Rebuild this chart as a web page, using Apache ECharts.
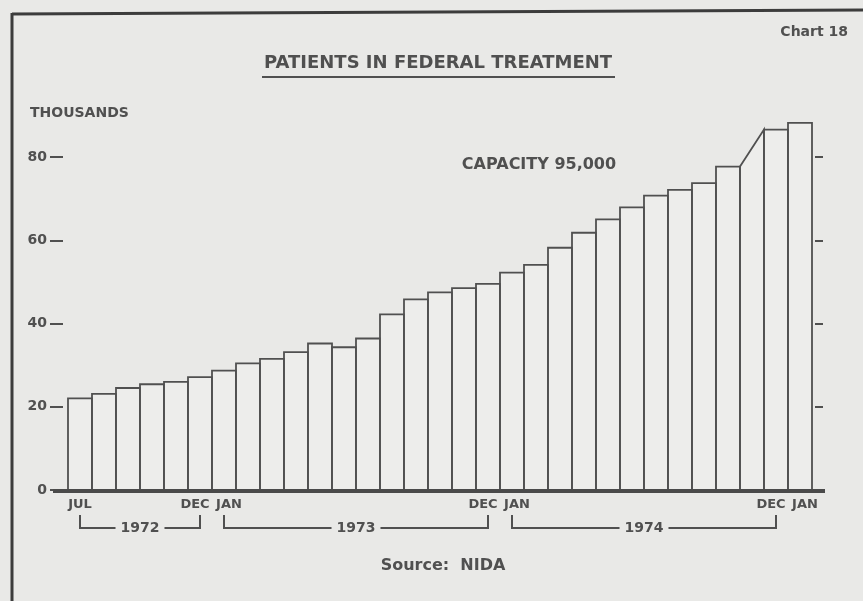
<!DOCTYPE html>
<html>
<head>
<meta charset="utf-8">
<script src="https://cdn.jsdelivr.net/npm/echarts@6/dist/echarts.min.js"></script>
<style>
html,body{margin:0;padding:0;background:#e9e9e7;}
#c{width:863px;height:601px;}
</style>
</head>
<body>
<div id="c"></div>
<script>
// ---- data ----
const months = ['Jul 1972','Aug 1972','Sep 1972','Oct 1972','Nov 1972','Dec 1972',
  'Jan 1973','Feb 1973','Mar 1973','Apr 1973','May 1973','Jun 1973','Jul 1973','Aug 1973','Sep 1973','Oct 1973','Nov 1973','Dec 1973',
  'Jan 1974','Feb 1974','Mar 1974','Apr 1974','May 1974','Jun 1974','Jul 1974','Aug 1974','Sep 1974','Oct 1974','Nov 1974','Dec 1974',
  'Jan 1975'];
// patients in thousands; Nov 1974 not reported (drawn as a slope between neighbours)
const patients = [22.0, 23.1, 24.5, 25.4, 26.0, 27.1,
  28.7, 30.4, 31.5, 33.1, 35.2, 34.3, 36.4, 42.2, 45.8, 47.5, 48.5, 49.5,
  52.2, 54.1, 58.2, 61.8, 65.0, 67.9, 70.7, 72.1, 73.7, 77.7, null, 86.6,
  88.2];
const monthTickLabels = {0:'JUL', 5:'DEC', 6:'JAN', 17:'DEC', 18:'JAN', 29:'DEC', 30:'JAN'};
const yTicks = [0, 20, 40, 60, 80];
const years = ['1972', '1973', '1974'];
const yearSpans = [[0, 5], [6, 17], [18, 29]];
const titleText = 'PATIENTS IN FEDERAL TREATMENT';
const chartNo = 'Chart 18';
const unitText = 'THOUSANDS';
const capacityText = 'CAPACITY 95,000';
const sourceText = 'Source:  NIDA';

// ---- build ----
const INK = '#505050';
const PAPER = '#e9e9e7';
const FONT = '"DejaVu Sans", sans-serif';

const barData = patients.map((v, i) => {
  if (v !== null) return [i, v, v];
  return [i, patients[i - 1], patients[i + 1]];
});

const chart = echarts.init(document.getElementById('c'));
chart.setOption({
  backgroundColor: PAPER,
  animation: false,
  grid: {left: 68, right: 51, top: 157, bottom: 111},
  xAxis: {
    type: 'category', data: months,
    axisLine: {show: false}, axisTick: {show: false}, splitLine: {show: false},
    axisLabel: {
      interval: 0, margin: 8, color: INK, fontFamily: FONT, fontWeight: 'bold', fontSize: 13,
      formatter: (val, idx) => {
        const t = monthTickLabels[idx];
        if (!t) return '';
        if (t === 'DEC') return '{d|' + t + '}';
        if (t === 'JAN' && idx > 0) return '{j|' + t + '}';
        return '{n|' + t + '}';
      },
      rich: {
        d: {padding: [0, 10, 0, 0], color: INK, fontFamily: FONT, fontWeight: 'bold', fontSize: 13},
        j: {padding: [0, 0, 0, 10], color: INK, fontFamily: FONT, fontWeight: 'bold', fontSize: 13},
        n: {color: INK, fontFamily: FONT, fontWeight: 'bold', fontSize: 13}
      }
    }
  },
  yAxis: [{
    type: 'value', min: yTicks[0], max: yTicks[yTicks.length - 1], interval: yTicks[1] - yTicks[0],
    position: 'left', offset: 5,
    axisLine: {show: false},
    axisTick: {show: true, length: 13, lineStyle: {color: INK, width: 2}},
    splitLine: {show: false},
    axisLabel: {margin: 16, color: INK, fontFamily: FONT, fontWeight: 'bold', fontSize: 14}
  }, {
    type: 'value', min: yTicks[0], max: yTicks[yTicks.length - 1], interval: yTicks[1] - yTicks[0],
    position: 'right', offset: 3,
    axisLine: {show: false},
    axisTick: {show: true, length: 8, lineStyle: {color: INK, width: 2}},
    splitLine: {show: false},
    axisLabel: {show: false}
  }],
  series: [{
    type: 'custom',
    clip: false,
    data: barData,
    encode: {x: 0, y: [1, 2]},
    renderItem: (params, api) => {
      const i = api.value(0);
      const c0 = api.coord([i, 0]);
      const cs = api.coord([i, api.value(1)]);
      const ce = api.coord([i, api.value(2)]);
      const bw = api.size([1, 0])[0];
      const l = c0[0] - bw / 2, r = c0[0] + bw / 2;
      return {
        type: 'polygon',
        shape: {points: [[l, c0[1]], [l, cs[1]], [r, ce[1]], [r, c0[1]]]},
        style: {fill: 'rgba(255,255,255,0.2)', stroke: INK, lineWidth: 1.8}
      };
    }
  }]
});

// ---- annotations derived from the axes ----
const px = (i, v) => chart.convertToPixel({seriesIndex: 0}, [i, v]);
const bwPx = px(1, 0)[0] - px(0, 0)[0];
const base = px(0, 0);
const leftEdge = base[0] - bwPx / 2;
const rightEdge = px(patients.length - 1, 0)[0] + bwPx / 2;
const g = [];
// frame
g.push({type: 'line', shape: {x1: 12, y1: 14, x2: 863, y2: 10}, style: {stroke: '#3c3c3c', lineWidth: 3}, z: 50});
g.push({type: 'line', shape: {x1: 12, y1: 13, x2: 12, y2: 601}, style: {stroke: '#3c3c3c', lineWidth: 3}, z: 50});
// baseline
g.push({type: 'line', shape: {x1: leftEdge - 15, y1: base[1] + 1, x2: rightEdge + 13, y2: base[1] + 1}, style: {stroke: '#4a4a4a', lineWidth: 4}, z: 60});
// title + underline
g.push({type: 'text', x: 438, y: 63, style: {text: titleText, fill: INK, font: 'bold 18px ' + FONT, textAlign: 'center', textVerticalAlign: 'middle'}, z: 50});
g.push({type: 'line', shape: {x1: 262, y1: 77, x2: 615, y2: 77}, style: {stroke: INK, lineWidth: 2}, z: 50});
g.push({type: 'text', x: 848, y: 32, style: {text: chartNo, fill: INK, font: 'bold 14px ' + FONT, textAlign: 'right', textVerticalAlign: 'middle'}, z: 50});
g.push({type: 'text', x: 30, y: 113, style: {text: unitText, fill: INK, font: 'bold 14px ' + FONT, textAlign: 'left', textVerticalAlign: 'middle'}, z: 50});
g.push({type: 'text', x: 539, y: 165, style: {text: capacityText, fill: INK, font: 'bold 16px ' + FONT, textAlign: 'center', textVerticalAlign: 'middle'}, z: 50});
g.push({type: 'text', x: 443, y: 566, style: {text: sourceText, fill: INK, font: 'bold 16px ' + FONT, textAlign: 'center', textVerticalAlign: 'middle'}, z: 50});
// year brackets
yearSpans.forEach((s, k) => {
  const xa = px(s[0], 0)[0], xb = px(s[1], 0)[0];
  const yTop = base[1] + 25, yBot = base[1] + 38;
  g.push({type: 'polyline', shape: {points: [[xa, yTop], [xa, yBot], [xb, yBot], [xb, yTop]]}, style: {stroke: INK, lineWidth: 2, fill: null}, z: 50});
  g.push({type: 'text', x: (xa + xb) / 2, y: yBot, style: {text: years[k], fill: INK, font: 'bold 14px ' + FONT, textAlign: 'center', textVerticalAlign: 'middle', backgroundColor: PAPER, padding: [2, 5]}, z: 51});
});
chart.setOption({graphic: g});
</script>
</body>
</html>
